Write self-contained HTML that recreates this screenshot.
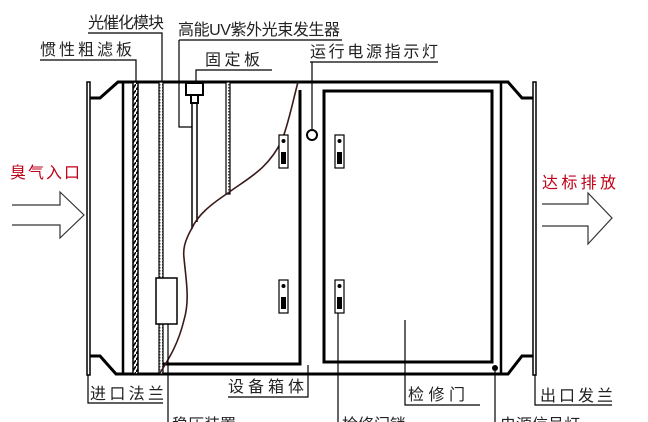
<!DOCTYPE html>
<html><head><meta charset="utf-8"><style>
html,body{margin:0;padding:0;background:#fff;}
svg{display:block;}
text{font-family:"Liberation Sans","Noto Sans CJK SC",sans-serif;font-size:16px;fill:#222;}
</style></head><body>
<svg width="648" height="422" viewBox="0 0 648 422" xmlns="http://www.w3.org/2000/svg">
<defs>
<pattern id="hatch" width="4" height="6" patternUnits="userSpaceOnUse">
<rect width="4" height="6" fill="#fff"/><path d="M0 6 L4 0" stroke="#000" stroke-width="1.6"/></pattern>
<pattern id="dots" width="3" height="3" patternUnits="userSpaceOnUse">
<rect width="3" height="3" fill="#fff"/><rect width="1.5" height="1.5" fill="#555"/></pattern>
</defs>
<g stroke="#000" fill="none">
<rect x="87" y="82" width="3" height="293" stroke-width="1.5"/>
<rect x="533" y="82" width="3" height="293" stroke-width="1.5"/>
<path d="M90 98 L100 98 L118 82 L508 82 L522 98 L533 98" stroke-width="3"/>
<path d="M90 356 L100 356 L116 374 L508 374 L522 356 L533 356" stroke-width="3"/>
<line x1="123" y1="82" x2="123" y2="374" stroke-width="2.5"/>
<line x1="501" y1="82" x2="501" y2="374" stroke-width="2.5"/>
<rect x="133" y="82" width="5" height="292" fill="url(#hatch)" stroke-width="1.5"/>
<rect x="159" y="82" width="4" height="292" fill="url(#dots)" stroke-width="1.2"/>
<rect x="226" y="82" width="4" height="112" fill="url(#dots)" stroke-width="1.2"/>
<rect x="186" y="83" width="17" height="12" stroke-width="2"/>
<rect x="191" y="95" width="7" height="8" stroke-width="2"/>
<line x1="192" y1="103" x2="192" y2="229" stroke-width="1.5"/>
<line x1="197" y1="103" x2="197" y2="222" stroke-width="1.5"/>
<path d="M300 90 L300 364 L163 364" stroke-width="3"/>
<path d="M298 82 C292 105 288 125 282 140 C268 170 245 180 228 193 C210 205 198 215 192 228 C184 242 183 250 184 258 C186 280 190 300 184 320 C178 345 168 360 160 373" stroke="#3a1a1a" stroke-width="1.6"/>
<rect x="324" y="91" width="168" height="271" stroke-width="3"/>
<rect x="156" y="278" width="21" height="46" fill="#fff" stroke-width="1.5"/>
<g stroke-width="1.2">
<rect x="279" y="135" width="9" height="33" fill="#fff"/>
<rect x="279" y="280" width="9" height="33" fill="#fff"/>
<rect x="335" y="135" width="9" height="33" fill="#fff"/>
<rect x="335" y="280" width="9" height="33" fill="#fff"/>
</g>
<circle cx="312" cy="135" r="5" stroke-width="2"/>
<g stroke-width="1.2">
<path d="M88 33 L162 33 L162 82"/>
<path d="M40 60 L136 60 L136 82"/>
<path d="M179 40 L342 40 M179 40 L179 127 L192 127"/>
<path d="M196 82 L196 70 L272 70"/>
<path d="M310 62 L438 62 M312 62 L312 130"/>
<path d="M88 375 L88 403 L163 403"/>
<path d="M228 397 L308 397 L308 365"/>
<path d="M405 320 L405 405 L480 405"/>
<path d="M535 375 L535 405 L612 405"/>
<path d="M168 324 L168 422"/>
<path d="M338 313 L338 422"/>
<path d="M495 368 L495 422"/>
<path d="M12 205 L60 205 L60 192 L84 215 L60 238 L60 225 L12 225" stroke="#333"/>
<path d="M542 204 L588 204 L588 193 L612 218 L588 244 L588 226 L542 226" stroke="#333"/>
</g>
</g>
<g fill="#000">
<circle cx="283.5" cy="141" r="2"/><rect x="281" y="152" width="5" height="12"/>
<circle cx="283.5" cy="286" r="2"/><rect x="281" y="297" width="5" height="12"/>
<circle cx="339.5" cy="141" r="2"/><rect x="337" y="152" width="5" height="12"/>
<circle cx="339.5" cy="286" r="2"/><rect x="337" y="297" width="5" height="12"/>
<circle cx="495" cy="368" r="3"/>
</g>
<text x="88" y="28" textLength="76">光催化模块</text>
<text x="40" y="55" textLength="92">惯性粗滤板</text>
<text x="178" y="35" textLength="162" font-size="15">高能UV紫外光束发生器</text>
<text x="205" y="65" textLength="55">固定板</text>
<text x="310" y="57" textLength="128">运行电源指示灯</text>
<text x="10" y="178" textLength="70" style="fill:#c00018">臭气入口</text>
<text x="542" y="188" textLength="74" style="fill:#c00018">达标排放</text>
<text x="90" y="399" textLength="74">进口法兰</text>
<text x="228" y="392" textLength="76">设备箱体</text>
<text x="408" y="400" textLength="57">检修门</text>
<text x="540" y="401" textLength="73">出口发兰</text>
<text x="172" y="430">稳压装置</text>
<text x="342" y="430">检修门锁</text>
<text x="500" y="430">电源信号灯</text>
</svg>
</body></html>
